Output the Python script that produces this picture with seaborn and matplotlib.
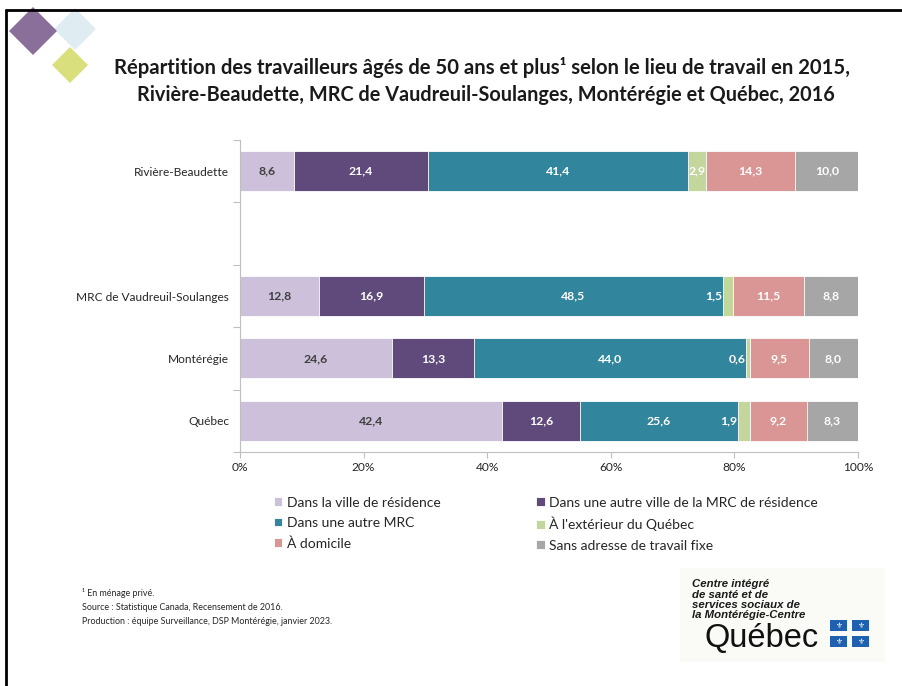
import numpy as np
import pandas as pd
import matplotlib
matplotlib.use("Agg")
import matplotlib.pyplot as plt
import seaborn as sns
from matplotlib.patches import Polygon, Rectangle
from matplotlib.lines import Line2D

# --- données ---
territoires = ["Rivière-Beaudette", "MRC de Vaudreuil-Soulanges", "Montérégie", "Québec"]
ordre_axe = ["Rivière-Beaudette", " ", "MRC de Vaudreuil-Soulanges", "Montérégie", "Québec"]
lieux = [
    "Dans la ville de résidence",
    "Dans une autre ville de la MRC de résidence",
    "Dans une autre MRC",
    "À l'extérieur du Québec",
    "À domicile",
    "Sans adresse de travail fixe",
]
ville_residence = [8.6, 12.8, 24.6, 42.4]
autre_ville_mrc = [21.4, 16.9, 13.3, 12.6]
autre_mrc = [41.4, 48.5, 44.0, 25.6]
hors_quebec = [2.9, 1.5, 0.6, 1.9]
domicile = [14.3, 11.5, 9.5, 9.2]
sans_adresse = [10.0, 8.8, 8.0, 8.3]
couleurs = ["#CCC0DA", "#604A7B", "#31859C", "#C3D69B", "#D99694", "#A6A6A6"]

W, H = 902, 686
FONT = "Lato"


def px(x, y):
    return x / W, 1 - y / H


valeurs = np.array([ville_residence, autre_ville_mrc, autre_mrc,
                    hors_quebec, domicile, sans_adresse]).T
# barres à 100 % (Rivière-Beaudette ne totalise pas 100)
parts = valeurs / valeurs.sum(axis=1, keepdims=True) * 100
cumul = parts.cumsum(axis=1)

df = pd.DataFrame(cumul, columns=[f"cum{i}" for i in range(len(lieux))])
df["territoire"] = territoires

sns.set_style("white")
plt.rcParams["font.family"] = [FONT, "DejaVu Sans"]

fig = plt.figure(figsize=(W / 100, H / 100), dpi=100)
ax = fig.add_axes([240 / W, 1 - 452 / H, 618 / W, 312 / H])

# empilement : on dessine les cumuls du plus long au plus court
for i in reversed(range(len(lieux))):
    sns.barplot(data=df, x=f"cum{i}", y="territoire", order=ordre_axe,
                color=couleurs[i], saturation=1, width=0.64,
                edgecolor="white", linewidth=0.6, label=lieux[i], ax=ax)

# étiquettes de données
for r, terr in enumerate(territoires):
    pos = ordre_axe.index(terr)
    for i in range(len(lieux)):
        debut = cumul[r, i] - parts[r, i]
        txt = f"{valeurs[r, i]:.1f}".replace(".", ",")
        couleur = "#3F3F3F" if i == 0 else "white"
        if valeurs[r, i] < 2.5:
            ax.text(debut - 0.1, pos, txt, ha="right", va="center",
                    color=couleur, fontsize=8.8, fontweight="bold")
        else:
            ax.text(debut + parts[r, i] / 2, pos, txt, ha="center", va="center",
                    color=couleur, fontsize=8.8, fontweight="bold")

ax.set_xlim(0, 100)
ax.set_ylim(4.5, -0.5)
ax.set_xticks(range(0, 101, 20))
ax.set_xticklabels([f"{t}%" for t in range(0, 101, 20)])
ax.set_yticks(range(len(ordre_axe)))
ax.set_yticklabels(ordre_axe)
ax.set_yticks(np.arange(-0.5, len(ordre_axe), 1), minor=True)
ax.tick_params(axis="y", which="major", length=0, pad=8, labelsize=8.6, labelcolor="#262626")
ax.tick_params(axis="y", which="minor", length=5, width=0.8, color="#BFBFBF", direction="out", left=True)
ax.tick_params(axis="x", length=4, width=0.8, color="#BFBFBF", direction="out", bottom=True,
               pad=3, labelsize=8.6, labelcolor="#262626")
ax.set_xlabel("")
ax.set_ylabel("")
sns.despine(ax=ax, top=True, right=True)
for s in ("left", "bottom"):
    ax.spines[s].set_color("#BFBFBF")
    ax.spines[s].set_linewidth(0.8)

# légende en 2 colonnes, lue ligne par ligne
handles, labels = ax.get_legend_handles_labels()
if ax.get_legend() is not None:
    ax.get_legend().remove()
par_nom = dict(zip(labels, handles))
ordre_leg = [lieux[k] for k in (0, 2, 4, 1, 3, 5)]
fig.legend([par_nom[n] for n in ordre_leg], ordre_leg, ncol=2,
           loc="upper left", bbox_to_anchor=px(261, 484), frameon=False,
           fontsize=10, handlelength=0.6, handleheight=0.6, handletextpad=0.35,
           columnspacing=6.9, labelspacing=0.6, labelcolor="#262626")

# titre
fig.text(*px(482, 68), "Répartition des travailleurs âgés de 50 ans et plus¹ selon le lieu de travail en 2015,",
         ha="center", va="center", fontsize=14.6, fontweight="bold", color="#1A1A1A")
fig.text(*px(486, 95), "Rivière-Beaudette, MRC de Vaudreuil-Soulanges, Montérégie et Québec, 2016",
         ha="center", va="center", fontsize=14.3, fontweight="bold", color="#1A1A1A")

# notes
fig.text(*px(82, 593), "¹ En ménage privé.", ha="left", va="center", fontsize=6.4, color="#262626")
fig.text(*px(82, 608), "Source : Statistique Canada, Recensement de 2016.",
         ha="left", va="center", fontsize=6.4, color="#262626")
fig.text(*px(82, 622), "Production : équipe Surveillance, DSP Montérégie, janvier 2023.",
         ha="left", va="center", fontsize=6.4, color="#262626")

# losanges décoratifs
def losange(cx, cy, r, couleur, alpha=1.0):
    pts = [px(cx, cy - r), px(cx + r, cy), px(cx, cy + r), px(cx - r, cy)]
    fig.add_artist(Polygon(pts, closed=True, facecolor=couleur, edgecolor="none",
                           alpha=alpha, transform=fig.transFigure))

losange(75, 29, 21, "#D5E8F0", 0.75)
losange(33, 31, 24, "#8A6F9A")
losange(70, 65, 18, "#D9DF7D")

# cadre
fig.add_artist(Line2D([6 / W, 1], [1 - 10 / H] * 2, color="black", lw=2, transform=fig.transFigure))
fig.add_artist(Line2D([6 / W] * 2, [1 - 10 / H, 0], color="black", lw=2, transform=fig.transFigure))

# logo CISSS
fig.add_artist(Rectangle(px(680, 662), 205 / W, 94 / H, facecolor="#FAFAF7",
                         edgecolor="none", transform=fig.transFigure))
for k, ligne in enumerate(["Centre intégré", "de santé et de", "services sociaux de", "la Montérégie-Centre"]):
    fig.text(*px(692, 584 + k * 10.5), ligne, ha="left", va="center", fontsize=8.2,
             fontweight="bold", fontstyle="italic", family="Liberation Sans", color="#1A1A1A")
fig.text(*px(705, 647), "Québec", ha="left", va="baseline", fontsize=23.5,
         family="Liberation Sans", color="#111111")
for fx in (830, 852):
    for fy in (620, 636):
        fig.add_artist(Rectangle(px(fx, fy + 11), 17 / W, 11 / H, facecolor="#2060B0",
                                 edgecolor="none", transform=fig.transFigure))
        fig.text(*px(fx + 8.5, fy + 5.5), "⚜", ha="center", va="center", fontsize=5.5,
                 color="white", family="DejaVu Sans")

fig.savefig("out.png", dpi=100)
